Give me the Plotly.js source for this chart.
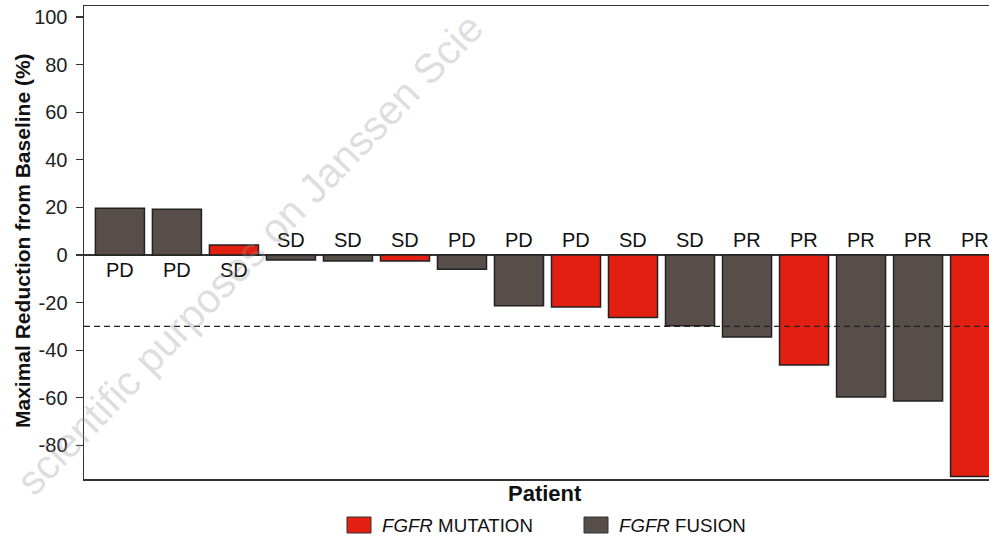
<!DOCTYPE html>
<html>
<head>
<meta charset="utf-8">
<script src="https://cdn.plot.ly/plotly-3.0.1.min.js"></script>
<style>
html,body{margin:0;padding:0;overflow:hidden;background:#fff;width:989px;height:536px;}
#chart{width:1030px;height:536px;}
</style>
</head>
<body>
<div id="chart"></div>
<script>
// Data
var patients = [1,2,3,4,5,6,7,8,9,10,11,12,13,14,15,16];
var reduction = [19.6,19.2,4.2,-2.1,-2.5,-2.5,-6.0,-21.3,-21.8,-26.3,-29.7,-34.5,-46.2,-59.7,-61.3,-93.0];
var alteration = ['fusion','fusion','mutation','fusion','fusion','mutation','fusion','fusion','mutation','mutation','fusion','fusion','mutation','fusion','fusion','mutation'];
var response = ['PD','PD','SD','SD','SD','SD','PD','PD','PD','SD','SD','PR','PR','PR','PR','PR'];
var threshold = -30;
var yTickVals = [-80,-60,-40,-20,0,20,40,60,80,100];
var yTickText = ['-80','-60','-40','-20','0','20','40','60','80','100'];
var legendNames = ['<i>FGFR</i> MUTATION','<i>FGFR</i> FUSION'];

var colorMap = {mutation:'#e31f12', fusion:'#574e4a'};
var xIdx = patients.map(function(p,i){return i;});
var FONT = 'Liberation Sans, Arial, Helvetica, sans-serif';

var trace = {
  type:'bar',
  x: xIdx,
  y: reduction,
  width: 0.86,
  marker:{color: alteration.map(function(a){return colorMap[a];}), line:{color:'#222', width:1.5}},
  showlegend:false,
  hoverinfo:'skip'
};

// geometry helpers (px -> paper)
var L=84, R=19, T=6, B=57, W=1030, H=536;
var pw=W-L-R, ph=H-T-B;
function px(x){return (x-L)/pw;}
function py(y){return (H-B-y)/ph;}

var annotations = response.map(function(r,i){
  var neg = reduction[i] < 0;
  return {x:i, y: neg ? 6.3 : -6.3, xref:'x', yref:'y', text:r, showarrow:false,
    xanchor:'center', yanchor:'middle', font:{family:FONT, size:20, color:'#111'}};
});
annotations.push({xref:'paper', yref:'paper', x:px(23), y:py(241), text:'<b>Maximal Reduction from Baseline (%)</b>',
  textangle:-90, showarrow:false, xanchor:'center', yanchor:'middle', font:{family:FONT, size:21, color:'#111'}});
annotations.push({xref:'paper', yref:'paper', x:px(545), y:py(494), text:'<b>Patient</b>',
  showarrow:false, xanchor:'center', yanchor:'middle', font:{family:FONT, size:22, color:'#111'}});
annotations.push({xref:'paper', yref:'paper', x:px(380), y:py(525), text:legendNames[0],
  showarrow:false, xanchor:'left', yanchor:'middle', font:{family:FONT, size:18.7, color:'#111'}});
annotations.push({xref:'paper', yref:'paper', x:px(617), y:py(525), text:legendNames[1],
  showarrow:false, xanchor:'left', yanchor:'middle', font:{family:FONT, size:18.7, color:'#111'}});
// watermark
annotations.push({xref:'paper', yref:'paper', x:px(250), y:py(254), text:'scientific purposes on Janssen Scie',
  textangle:-46, showarrow:false, xanchor:'center', yanchor:'middle', font:{family:FONT, size:41, color:'rgba(150,150,150,0.33)'}});

var shapes = [
  {type:'line', xref:'paper', yref:'y', x0:0, x1:1, y0:threshold, y1:threshold, layer:'above', line:{color:'#222', width:1.2, dash:'6px,4px'}},
  {type:'rect', xref:'paper', yref:'paper', x0:px(347), x1:px(371), y0:py(533), y1:py(517), line:{color:'#333', width:1}, fillcolor:colorMap.mutation},
  {type:'rect', xref:'paper', yref:'paper', x0:px(584), x1:px(608), y0:py(533), y1:py(517), line:{color:'#333', width:1}, fillcolor:colorMap.fusion}
];

var layout = {
  width:W, height:H,
  margin:{l:L, r:R, t:T, b:B, pad:0},
  paper_bgcolor:'#fff', plot_bgcolor:'#fff',
  xaxis:{range:[-0.63,15.63], showticklabels:false, ticks:'', showgrid:false, zeroline:false,
    showline:true, mirror:true, linecolor:'#333', linewidth:1.5, fixedrange:true},
  yaxis:{range:[-94.1,104.6], tickmode:'array', tickvals:yTickVals, ticktext:yTickText,
    ticks:'outside', ticklen:7, tickwidth:1.2, tickcolor:'#333', ticklabelstandoff:4,
    showgrid:false, zeroline:true, zerolinecolor:'#333', zerolinewidth:1.5,
    showline:true, mirror:true, linecolor:'#333', linewidth:1.5,
    tickfont:{family:FONT, size:20, color:'#222'}, fixedrange:true},
  annotations:annotations,
  shapes:shapes,
  showlegend:false
};

Plotly.newPlot('chart',[trace],layout,{displayModeBar:false, staticPlot:true});
</script>
</body>
</html>
